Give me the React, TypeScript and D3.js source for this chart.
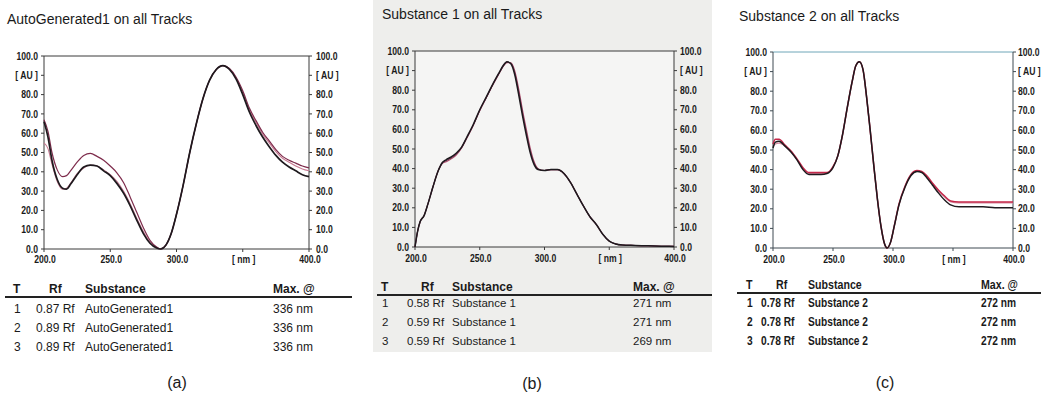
import React from 'react';
import * as d3 from 'd3';

const FONT = "'Liberation Sans', Arial, Helvetica, sans-serif";

// ---------- Panel (a) data ----------
const aNm = [200, 203, 206, 210, 214, 217, 220, 225, 230, 235, 240, 245, 250, 255, 260, 265, 270, 275, 280, 285, 288, 292, 296, 300, 305, 310, 315, 320, 325, 330, 335, 340, 345, 350, 355, 360, 365, 370, 375, 380, 385, 390, 395, 400];
const aTrack1 = [66, 58, 46, 36, 31.5, 31, 33.5, 38.5, 42.5, 43.5, 43, 40.5, 38, 34, 29, 22.5, 15, 8, 3, 0.5, 0, 2, 8, 18, 33, 50, 65, 78, 87.5, 93, 95, 93, 88, 80, 71, 64, 58, 53, 48.5, 45, 42.5, 40.5, 38.5, 37.5];
const aTrack2 = [67, 61, 50, 41, 37.5, 38, 40.5, 45, 48.5, 49.5, 48, 46, 43, 39.5, 34.5, 27, 19, 11, 4.5, 1, 0, 2, 8, 18, 33, 50, 65, 78, 87.5, 93, 95, 93.5, 89, 82, 73, 66.5, 60.5, 56, 51.5, 48, 46, 44.5, 43, 42];
const aTrack3 = [55, 52, 44, 35, 31, 31.5, 34, 39, 42, 43.5, 43, 41, 38.5, 35, 30, 23.5, 16, 9, 3.5, 0.8, 0, 2, 8, 18, 33, 50, 65, 78, 87.5, 93, 95, 93.2, 88.5, 81, 72, 65.5, 59.5, 55, 50.5, 47, 45, 43, 41.5, 40.5];

// ---------- Panel (b) data ----------
const bNm = [200, 202, 204, 207, 210, 214, 218, 221, 224, 228, 232, 236, 240, 245, 250, 255, 260, 265, 268, 271, 274, 277, 280, 283, 286, 289, 292, 295, 300, 305, 310, 315, 320, 325, 330, 335, 340, 345, 350, 355, 360, 370, 380, 390, 400];
const bTrack1 = [0, 8, 13, 16, 22, 31, 39, 43, 44.5, 46, 48, 51, 56, 62.5, 70, 76.5, 83, 89, 92.5, 94.5, 93.5, 88, 78, 67, 57, 48, 42, 39.5, 39, 39.5, 39.5, 37.5, 33, 27, 21, 15.5, 11.5, 6.5, 3, 1.5, 1, 0.8, 0.6, 0.4, 0.3];
const bTrack2 = [0, 8, 13, 16, 22, 31, 39, 42.5, 43.5, 45, 47, 50.5, 55.5, 62, 69.5, 76, 82.5, 88.5, 92, 94, 94, 90, 81, 70, 60, 50.5, 43.5, 40, 39, 39.5, 39.5, 37.5, 33, 27, 21, 15.5, 11.5, 6.5, 3, 1.5, 1, 0.8, 0.6, 0.4, 0.3];
const bTrack3 = [0, 8, 13, 16, 22, 31, 39, 42.8, 44, 45.5, 47.5, 50.8, 55.8, 62.2, 69.8, 76.2, 82.8, 88.8, 92.3, 94.3, 93.8, 89, 79.5, 68.5, 58.5, 49, 42.8, 39.8, 39, 39.5, 39.5, 37.5, 33, 27, 21, 15.5, 11.5, 6.5, 3, 1.5, 1, 0.8, 0.6, 0.4, 0.3];

// ---------- Panel (c) data ----------
const cNm = [200, 202, 205, 210, 215, 220, 225, 230, 235, 240, 245, 250, 254, 258, 262, 266, 269, 272, 275, 278, 281, 284, 287, 290, 293, 295, 298, 301, 305, 310, 315, 320, 324, 328, 333, 338, 343, 348, 355, 365, 375, 385, 400];
const cTrack1 = [51, 54, 54.5, 52, 49, 45, 40, 37.5, 37.5, 37.5, 38, 41, 47, 58, 72, 85, 93, 95, 91, 77, 60, 42, 25, 11, 2, 0, 3, 11, 22, 31, 37, 39, 38.5, 36, 32, 28, 24.5, 22, 21, 21, 21, 20.5, 20.5];
const cTrack2 = [53, 55.5, 55.5, 52.5, 49.5, 45.5, 41, 38.5, 38.5, 38.5, 38.5, 41.5, 47, 58, 72, 85, 93, 95, 91, 77, 60, 42, 25, 11, 2, 0, 3, 11, 22.5, 31.5, 37.5, 39.5, 39, 37, 33, 29.5, 26.5, 24, 23.5, 23.5, 23.5, 23.5, 23.5];
const cTrack3 = [52, 53, 53.5, 52, 49, 45, 40.5, 38, 38, 38, 38.2, 41.2, 47, 58, 72, 85, 93, 95, 91, 77, 60, 42, 25, 11, 2, 0, 3, 11, 22.2, 31.2, 37.2, 39.2, 38.8, 36.6, 32.6, 29, 26, 23.5, 23, 23, 23, 23, 23];

// ---------- Axis ticks ----------
const yTicks = [0, 10, 20, 30, 40, 50, 60, 70, 80, 90, 100];
const yTickLabels = ['0.0', '10.0', '20.0', '30.0', '40.0', '50.0', '60.0', '70.0', '80.0', '[ AU ]', '100.0'];
const xTicks = [200, 250, 300, 350, 400];
const xTickLabels = ['200.0', '250.0', '300.0', '[ nm ]', '400.0'];

// ---------- Tables ----------
const tableHeader = ['T', 'Rf', 'Substance', 'Max. @'];
const aRows = [
  ['1', '0.87 Rf', 'AutoGenerated1', '336 nm'],
  ['2', '0.89 Rf', 'AutoGenerated1', '336 nm'],
  ['3', '0.89 Rf', 'AutoGenerated1', '336 nm'],
];
const bRows = [
  ['1', '0.58 Rf', 'Substance 1', '271 nm'],
  ['2', '0.59 Rf', 'Substance 1', '271 nm'],
  ['3', '0.59 Rf', 'Substance 1', '269 nm'],
];
const cRows = [
  ['1', '0.78 Rf', 'Substance 2', '272 nm'],
  ['2', '0.78 Rf', 'Substance 2', '272 nm'],
  ['3', '0.78 Rf', 'Substance 2', '272 nm'],
];

const panels = [
  {
    key: 'a', title: 'AutoGenerated1 on all Tracks', titleX: 7, titleY: 24,
    left: 44, right: 309, top: 56, bottom: 249, xLabY: 263, rightLabOff: 7,
    nm: aNm, tracks: [aTrack3, aTrack2, aTrack1],
    colors: ['#c77a92', '#7e2c4c', '#1e1a1e'], widths: [1.1, 1.2, 1.7],
    rows: aRows, hdrY: 293, lineY: 297, lineX1: 5, lineX2: 352, rowY: [313, 332, 351],
    colT: 13, colRfH: 49, colRf: 36, colSub: 85, colMax: 273,
    hdrSize: 12, rowSize: 12, rowWeight: 'normal', sx: 1,
    label: '(a)', labelX: 177, labelY: 388, frame: '#3a3a3a', topFrame: '#3a3a3a',
  },
  {
    key: 'b', title: 'Substance 1 on all Tracks', titleX: 382, titleY: 19,
    left: 415, right: 674, top: 51, bottom: 247, xLabY: 262, rightLabOff: 6,
    nm: bNm, tracks: [bTrack2, bTrack3, bTrack1],
    colors: ['#b0506e', '#6e3050', '#1e1a1e'], widths: [1.1, 1.1, 1.5],
    rows: bRows, hdrY: 291, lineY: 295, lineX1: 377, lineX2: 712, rowY: [307, 326, 345],
    colT: 381, colRfH: 421, colRf: 407, colSub: 452, colMax: 633,
    hdrSize: 12, rowSize: 11.5, rowWeight: 'normal', sx: 1,
    label: '(b)', labelX: 532, labelY: 389, frame: '#3a3a3a', topFrame: '#3a3a3a',
  },
  {
    key: 'c', title: 'Substance 2 on all Tracks', titleX: 739, titleY: 21,
    left: 773, right: 1013, top: 52, bottom: 248, xLabY: 263, rightLabOff: 5,
    nm: cNm, tracks: [cTrack3, cTrack2, cTrack1],
    colors: ['#d68aa0', '#c4284a', '#1e1a1e'], widths: [1.1, 1.5, 1.5],
    rows: cRows, hdrY: 289, lineY: 293, lineX1: 737, lineX2: 1041, rowY: [307, 326, 345],
    colT: 746, colRfH: 776, colRf: 761, colSub: 808, colMax: 981,
    hdrSize: 12.5, rowSize: 12, rowWeight: 'bold', sx: 0.85,
    label: '(c)', labelX: 885, labelY: 388, frame: '#3f4a52', topFrame: '#6fa6b8',
  },
];

// Text drawn horizontally condensed around its anchor point.
function NText({ x, y, sx, children, ...rest }: any) {
  return (
    <text transform={`translate(${x},${y}) scale(${sx},1)`} x={0} y={0} {...rest}>
      {children}
    </text>
  );
}

function Panel({ p }: { p: any }) {
  const x = d3.scaleLinear().domain([200, 400]).range([p.left, p.right]);
  const y = d3.scaleLinear().domain([0, 100]).range([p.bottom, p.top]);
  const line = d3
    .line<number>()
    .x((_, i) => x(p.nm[i]))
    .y((v) => y(v))
    .curve(d3.curveMonotoneX);
  const tickFont = { fontFamily: FONT, fontSize: 10.5, fontWeight: 'bold' as const, fill: '#1a1a1a' };
  const TSX = 0.82;
  return (
    <g>
      <text x={p.titleX} y={p.titleY} fontFamily={FONT} fontSize={14} fill="#1a1a1a">
        {p.title}
      </text>
      {/* frame */}
      <line x1={p.left} x2={p.right} y1={p.top} y2={p.top} stroke={p.topFrame} strokeWidth={1} />
      <line x1={p.left} x2={p.right} y1={p.bottom} y2={p.bottom} stroke={p.frame} strokeWidth={1} />
      <line x1={p.left} x2={p.left} y1={p.top} y2={p.bottom} stroke={p.frame} strokeWidth={1} />
      <line x1={p.right} x2={p.right} y1={p.top} y2={p.bottom} stroke={p.frame} strokeWidth={1} />
      {/* y ticks left & right */}
      {yTicks.map((t, i) => (
        <g key={'y' + t}>
          <line x1={p.left - 3} x2={p.left} y1={y(t)} y2={y(t)} stroke={p.frame} />
          <line x1={p.right} x2={p.right + 3} y1={y(t)} y2={y(t)} stroke={p.frame} />
          <NText x={p.left - 6} y={y(t)} sx={TSX} dy="0.35em" textAnchor="end" {...tickFont}>
            {yTickLabels[i]}
          </NText>
          <NText x={p.right + p.rightLabOff} y={y(t)} sx={TSX} dy="0.35em" textAnchor="start" {...tickFont}>
            {yTickLabels[i]}
          </NText>
        </g>
      ))}
      {xTicks.map((t, i) => (
        <g key={'x' + t}>
          <line x1={x(t)} x2={x(t)} y1={p.bottom} y2={p.bottom + 3} stroke={p.frame} />
          <NText x={x(t) + 1} y={p.xLabY} sx={TSX} textAnchor="middle" {...tickFont}>
            {xTickLabels[i]}
          </NText>
        </g>
      ))}
      {p.tracks.map((tr: number[], i: number) => (
        <path key={'tr' + i} d={line(tr) || ''} fill="none" stroke={p.colors[i]} strokeWidth={p.widths[i]} strokeLinejoin="round" />
      ))}
      {/* table */}
      <g fontFamily={FONT} fill="#1a1a1a">
        <NText x={p.colT} y={p.hdrY} sx={p.sx} fontSize={p.hdrSize} fontWeight="bold">{tableHeader[0]}</NText>
        <NText x={p.colRfH} y={p.hdrY} sx={p.sx} fontSize={p.hdrSize} fontWeight="bold">{tableHeader[1]}</NText>
        <NText x={p.colSub} y={p.hdrY} sx={p.sx} fontSize={p.hdrSize} fontWeight="bold">{tableHeader[2]}</NText>
        <NText x={p.colMax} y={p.hdrY} sx={p.sx} fontSize={p.hdrSize} fontWeight="bold">{tableHeader[3]}</NText>
        <line x1={p.lineX1} x2={p.lineX2} y1={p.lineY} y2={p.lineY} stroke="#222" strokeWidth={1.8} />
        {p.rows.map((r: string[], i: number) => (
          <g key={'r' + i} fontSize={p.rowSize} fontWeight={p.rowWeight}>
            <NText x={p.colT + 1} y={p.rowY[i]} sx={p.sx}>{r[0]}</NText>
            <NText x={p.colRf} y={p.rowY[i]} sx={p.sx}>{r[1]}</NText>
            <NText x={p.colSub} y={p.rowY[i]} sx={p.sx}>{r[2]}</NText>
            <NText x={p.colMax} y={p.rowY[i]} sx={p.sx}>{r[3]}</NText>
          </g>
        ))}
      </g>
      <text x={p.labelX} y={p.labelY} textAnchor="middle" fontFamily={FONT} fontSize={16} fill="#1a1a1a">
        {p.label}
      </text>
    </g>
  );
}

export default function App() {
  return (
    <svg width={1041} height={400} style={{ position: 'absolute', left: 0, top: 0, background: '#ffffff' }}>
      <rect x={0} y={0} width={1041} height={400} fill="#ffffff" />
      <rect x={373} y={0} width={339} height={352} fill="#eeeeec" />
      <rect x={415} y={51} width={259} height={196} fill="#f5f5f4" />
      {panels.map((p) => (
        <Panel key={p.key} p={p} />
      ))}
    </svg>
  );
}
